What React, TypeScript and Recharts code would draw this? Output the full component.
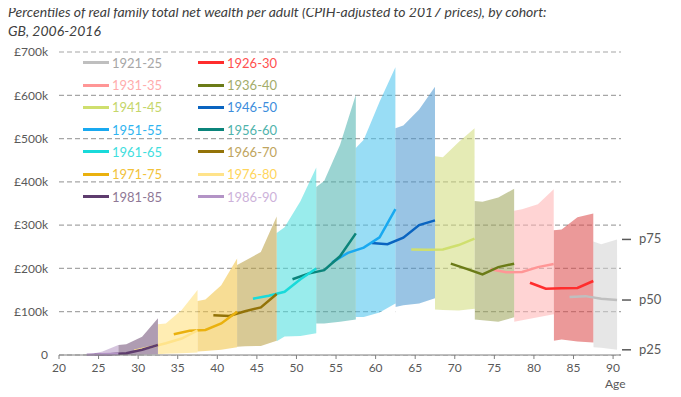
import { ComposedChart, Area, Line, XAxis, YAxis, CartesianGrid } from 'recharts';

const cohorts = ['1921-25', '1926-30', '1931-35', '1936-40', '1941-45', '1946-50', '1951-55', '1956-60', '1961-65', '1966-70', '1971-75', '1976-80', '1981-85', '1986-90'];

const lineColors = ['#BFBFBF', '#FF2D2D', '#FF9696', '#6B7B17', '#CFDF6E', '#0A64C0', '#19A9F0', '#0B847B', '#19DADA', '#937308', '#EAB10E', '#FFE38A', '#5E3C6E', '#B393C6'];
const textColors = ['#A6A6A6', '#FF5050', '#FFADAD', '#A3AC6A', '#C5D66A', '#3D8DDC', '#30B4F0', '#4FB3AC', '#3FDEDE', '#BFA560', '#F2C23A', '#FFD55C', '#8F7896', '#CDB2DA'];
const bandColors = ['#D2D2D2', '#DB4646', '#FFB1B1', '#9BA256', '#D0DB79', '#4694CE', '#46C1ED', '#49B1AD', '#46DDDD', '#B89D3E', '#F1C13E', '#FFDE75', '#6E4A73', '#B394C1'];

// median (p50), £k by age: [age, value]
const median1921 = [[84.5, 134], [86.5, 136], [88.5, 130], [90.5, 127]];
const median1926 = [[79.5, 167], [81.5, 153], [83.5, 154], [85.5, 155], [87.5, 171]];
const median1931 = [[74.5, 198], [76.5, 191], [78.5, 192], [80.5, 203], [82.5, 210]];
const median1936 = [[69.5, 211], [71.5, 199], [73.5, 186], [75.5, 203], [77.5, 211]];
const median1941 = [[64.5, 244], [66.5, 243], [68.5, 244], [70.5, 254], [72.5, 269]];
const median1946 = [[59.5, 259], [61.5, 256], [63.5, 271], [65.5, 300], [67.5, 311]];
const median1951 = [[54.5, 214], [56.5, 236], [58.5, 248], [60.5, 272], [62.5, 337]];
const median1956 = [[49.5, 175], [51.5, 188], [53.5, 196], [55.5, 228], [57.5, 281]];
const median1961 = [[44.5, 130], [46.5, 137], [48.5, 146], [50.5, 175], [52.5, 200]];
const median1966 = [[39.5, 92], [41.5, 90], [43.5, 101], [45.5, 110], [47.5, 141]];
const median1971 = [[34.5, 48], [36.5, 56], [38.5, 58], [40.5, 73], [42.5, 100]];
const median1976 = [[29.5, 10], [31.5, 18], [33.5, 27], [35.5, 38], [37.5, 57]];
const median1981 = [[24.5, 1], [26.5, 1.5], [28.5, 4], [30.5, 12], [32.5, 23]];
const median1986 = [[23.5, 0.5], [25.5, 1.5], [27.5, 3]];

// p25 - p75 band, £k by age: [age, p25, p75]
const band1921 = [[87.5, 18, 262], [88.5, 17, 256], [90.5, 12, 267]];
const band1926 = [[82.5, 33, 288], [83.5, 36, 290], [85.5, 31, 318], [87.5, 29, 327]];
const band1931 = [[77.5, 77, 333], [78.5, 80, 337], [80.5, 87, 348], [82.5, 94, 383]];
const band1936 = [[72.5, 82, 356], [73.5, 80, 354], [75.5, 77, 364], [77.5, 87, 384]];
const band1941 = [[67.5, 105, 459], [68.5, 104, 457], [70.5, 103, 492], [72.5, 107, 524]];
const band1946 = [[62.5, 111, 524], [63.5, 115, 530], [65.5, 119, 567], [67.5, 131, 620]];
const band1951 = [[57.5, 88, 478], [58.5, 88, 497], [60.5, 98, 585], [62.5, 119, 665]];
const band1956 = [[52.5, 73, 388], [53.5, 73, 402], [55.5, 77, 485], [57.5, 82, 601]];
const band1961 = [[47.5, 32, 282], [48.5, 43, 295], [50.5, 44, 355], [52.5, 50, 433]];
const band1966 = [[42.5, 19, 208], [43.5, 20, 218], [45.5, 21, 238], [47.5, 33, 320]];
const band1971 = [[37.5, 8, 125], [38.5, 9, 128], [40.5, 12, 161], [42.5, 18, 223]];
const band1976 = [[32.5, 2, 71], [33.5, 3, 73], [35.5, 4, 104], [37.5, 6, 150]];
const band1981 = [[27.5, 0, 23], [28.5, 0, 25], [30.5, 1, 42], [32.5, 2, 85]];
const band1986 = [[23.5, 0, 0], [25.5, 0, 8], [27.5, 0, 23]];

const xTicks = [20, 25, 30, 35, 40, 45, 50, 55, 60, 65, 70, 75, 80, 85, 90];
const yTicks = [0, 100, 200, 300, 400, 500, 600, 700];
// end points of the oldest cohort, marked on the right
const pctTicks = [12, 127, 267];
const pctLabels = ['p25', 'p50', 'p75'];

const medians = [median1921, median1926, median1931, median1936, median1941, median1946, median1951, median1956, median1961, median1966, median1971, median1976, median1981, median1986];
const bands = [band1921, band1926, band1931, band1936, band1941, band1946, band1951, band1956, band1961, band1966, band1971, band1976, band1981, band1986];

const FONT = 'Lato, "Open Sans", sans-serif';

const PctTick = ({ x, y, payload }: any) => {
  const i = pctTicks.indexOf(payload.value);
  return (
    <g>
      <line x1={x + 1} x2={x + 10} y1={y} y2={y} stroke="#595959" strokeWidth={1.5} />
      <text x={x + 18} y={y} dy={4} fill="#595959" fontSize={13} fontFamily={FONT}>{pctLabels[i]}</text>
    </g>
  );
};

export default function App() {
  // the oldest cohort sits on the right-hand axis (same 0-700 scale) so that axis gets drawn
  const axisFor = (i: number) => (i === 0 ? 'pct' : 0);

  return (
    <div style={{ position: 'relative', width: 681, height: 397, margin: '-8px 0 0 -8px', background: '#fff', fontFamily: FONT }}>
      <div style={{ position: 'absolute', left: 8, top: 2, fontSize: 14, lineHeight: '19px', fontStyle: 'italic', color: '#404040' }}>
        Percentiles of real family total net wealth per adult (CPIH-adjusted to 2017 prices), by cohort:
        <br />
        GB, 2006-2016
      </div>

      <ComposedChart width={681} height={397} margin={{ top: 52, right: 0, bottom: 12, left: 0 }}>
        <CartesianGrid vertical={false} strokeDasharray="5 3" stroke="#A6A6A6" strokeWidth={1.2} />
        <XAxis
          dataKey="age"
          type="number"
          domain={[20, 91]}
          ticks={xTicks}
          allowDataOverflow
          height={30}
          stroke="#7F7F7F"
          tickSize={4}
          tick={{ fill: '#595959', fontSize: 12, fontFamily: FONT }}
          tickMargin={4}
        />
        <YAxis
          domain={[0, 700]}
          ticks={yTicks}
          width={59}
          axisLine={false}
          tickLine={false}
          tickSize={0}
          tickMargin={11}
          tick={{ fill: '#595959', fontSize: 12, fontFamily: FONT }}
          tickFormatter={(v: number) => (v === 0 ? '0' : `£${v}k`)}
        />
        <YAxis
          yAxisId="pct"
          orientation="right"
          domain={[0, 700]}
          ticks={pctTicks}
          interval={0}
          width={60}
          axisLine={false}
          tickLine={false}
          tickSize={0}
          tickMargin={0}
          tick={<PctTick />}
        />

        {bands.map((band, i) => {
          const data = band.map(([age, lo, hi]) => ({ age, base: [0, lo], range: [lo, hi] }));
          return [
            <Area
              key={`base-${i}`}
              yAxisId={axisFor(i)}
              data={data}
              dataKey="base"
              type="linear"
              stroke="none"
              fill="#FFFFFF"
              fillOpacity={1}
              isAnimationActive={false}
            />,
            <Area
              key={`band-${i}`}
              yAxisId={axisFor(i)}
              data={data}
              dataKey="range"
              type="linear"
              stroke="none"
              fill={bandColors[i]}
              fillOpacity={0.55}
              isAnimationActive={false}
            />,
          ];
        })}

        {medians.map((med, i) => (
          <Line
            key={`med-${i}`}
            yAxisId={axisFor(i)}
            data={med.map(([age, v]) => ({ age, v }))}
            dataKey="v"
            type="linear"
            stroke={lineColors[i]}
            strokeWidth={2.5}
            dot={false}
            activeDot={false}
            isAnimationActive={false}
          />
        ))}
      </ComposedChart>

      <div style={{ position: 'absolute', left: 605, top: 376, fontSize: 12, color: '#595959' }}>Age</div>

      {cohorts.map((name, i) => {
        const col = i % 2;
        const row = Math.floor(i / 2);
        const left = col === 0 ? 83 : 198;
        const top = 62.7 + row * 22.3;
        return (
          <div key={name} style={{ position: 'absolute', left, top: top - 9, height: 18, display: 'flex', alignItems: 'center' }}>
            <div style={{ width: 26, height: 3, background: lineColors[i] }} />
            <span style={{ marginLeft: 3, fontSize: 13, color: textColors[i] }}>{name}</span>
          </div>
        );
      })}
    </div>
  );
}
